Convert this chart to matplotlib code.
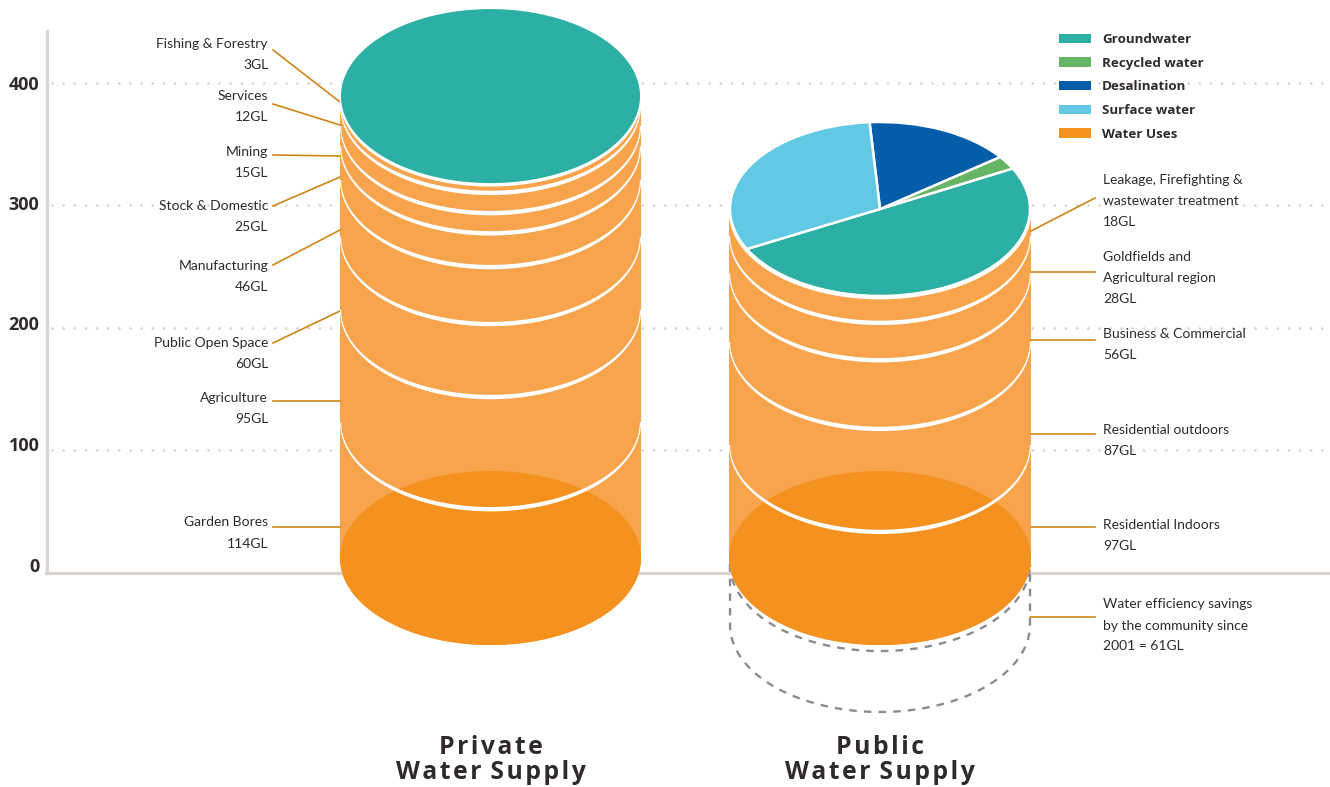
import numpy as np
import matplotlib
matplotlib.use('Agg')
import matplotlib.pyplot as plt
from matplotlib.patches import Patch
from matplotlib.transforms import ScaledTranslation

# wartosci
y_ticks = [0, 100, 200, 300, 400]

private_uses = ['Garden Bores', 'Agriculture', 'Public Open Space', 'Manufacturing',
                'Stock & Domestic', 'Mining', 'Services', 'Fishing & Forestry']
private_volumes = [114, 95, 60, 46, 25, 15, 12, 3]
# gorna krawedz kazdej warstwy na osi Y, podstawa to private_base
private_base = 12.2
private_tops = [123, 214.5, 274, 320.5, 348, 364.5, 381, 389]

public_uses = ['Residential Indoors', 'Residential outdoors', 'Business & Commercial',
               'Goldfields and\nAgricultural region',
               'Leakage, Firefighting &\nwastewater treatment']
public_volumes = [97, 87, 56, 28, 18]
public_base = 12.2
public_tops = [104.5, 188.5, 244.5, 275, 297]
savings_levels = [7.3, -42.4]
savings_label = 'Water efficiency savings\nby the community since\n2001 = 61GL'

source_names = ['Groundwater', 'Recycled water', 'Desalination', 'Surface water']
source_shares = [50.1, 2.5, 15.9, 31.5]
source_colors = ['#2CAFA4', '#66B565', '#045DA8', '#61C9E3']

USE_SOLID = '#F5911E'
USE_LIGHT = '#F8A44C'
LEADER = '#CF8618'
AXIS = '#D9D4CF'
TEXT = '#2F2B2C'
LABEL_FONT = ['Lato', 'DejaVu Sans']
BOLD_FONT = ['Open Sans', 'DejaVu Sans']

PX_PER_GL = 1.226
ZERO_PX = 573.0
HEIGHT = 787


def gl(px):
    # pozycja w pikselach (od gory) na wartosc osi Y
    return (ZERO_PX - px) / PX_PER_GL


fig = plt.figure(figsize=(13.3, 7.87), dpi=100)
ax = fig.add_axes([0, 0, 1, 1])
ax.set_xlim(0, 1330)
ax.set_ylim(gl(HEIGHT), gl(0))
ax.patch.set_visible(False)

# osie
for side in ['top', 'right']:
    ax.spines[side].set_visible(False)
ax.spines['left'].set_position(('data', 47))
ax.spines['left'].set_bounds(0, gl(31))
ax.spines['bottom'].set_position(('data', 0))
ax.spines['bottom'].set_bounds(46, 1330)
for side in ['left', 'bottom']:
    ax.spines[side].set_color(AXIS)
    ax.spines[side].set_linewidth(2.3)
    ax.spines[side].set_zorder(2)
ax.set_xticks([])
ax.set_yticks(y_ticks)
ax.set_yticklabels([str(t) for t in y_ticks], family=BOLD_FONT, fontweight='bold',
                   fontsize=13, color=TEXT)
ax.tick_params(axis='y', length=0, pad=5.5)
# etykiety osi sa lekko przesuniete do gory wzgledem linii
for label, shift in zip(ax.get_yticklabels(), [5.5, 4.5, 3.5, 1.5, 0]):
    label.set_transform(label.get_transform() + ScaledTranslation(0, shift / 72, fig.dpi_scale_trans))

for t in y_ticks[1:]:
    ax.plot([52, 1330], [t, t], color=AXIS, lw=2.0, linestyle=(0, (0.01, 4.0)),
            dash_capstyle='round', zorder=1)

t_lower = np.linspace(np.pi, 2 * np.pi, 200)
HALF_H = 87 / PX_PER_GL


def draw_stack(cx, half_w, base, tops):
    cos_t = np.cos(t_lower)
    sin_t = np.sin(t_lower)
    x = cx + half_w * cos_t
    # korpus walca
    body_x = np.r_[x, cx + half_w, cx - half_w]
    body_y = np.r_[base + HALF_H * sin_t, tops[-1], tops[-1]]
    ax.fill(body_x, body_y, color=USE_LIGHT, lw=0, zorder=3)
    # podstawa
    t_full = np.linspace(0, 2 * np.pi, 300)
    ax.fill(cx + half_w * np.cos(t_full), base + HALF_H * np.sin(t_full),
            color=USE_SOLID, lw=0, zorder=4)
    # biale granice warstw
    thick = 2.2 / PX_PER_GL
    for top in tops[:-1]:
        outer_x = x
        outer_y = top + (HALF_H + thick) * sin_t
        inner_x = cx + (half_w - 1.2) * cos_t
        inner_y = top + (HALF_H - thick) * sin_t
        ax.fill(np.r_[outer_x, inner_x[::-1]], np.r_[outer_y, inner_y[::-1]],
                color='white', lw=0, zorder=5)
    # biala obwodka pod gorna elipsa
    ax.fill(cx + (half_w + 0.3) * np.cos(t_full),
            tops[-1] - 2.5 / PX_PER_GL + (HALF_H + 1 / PX_PER_GL) * np.sin(t_full),
            color='white', lw=0, zorder=6)


draw_stack(490.5, 150.5, private_base, private_tops)
draw_stack(880, 151, public_base, public_tops)

# gorna elipsa prywatnego walca
t_top = np.linspace(0, 2 * np.pi, 300)
ax.fill(490.5 + 149.5 * np.cos(t_top), private_tops[-1] + HALF_H * np.sin(t_top),
        color=source_colors[0], lw=0, zorder=7)

# oszczednosci - linia przerywana pod publicznym walcem
dash = (0, (3.2, 3.0))
ax.plot(880 + 150 * np.cos(t_lower), savings_levels[0] + HALF_H * np.sin(t_lower),
        color='#8A8C8E', lw=1.7, linestyle=dash, zorder=2.5)
ax.plot(np.r_[730, 880 + 150 * np.cos(t_lower), 1030],
        np.r_[savings_levels[0], savings_levels[1] + HALF_H * np.sin(t_lower), savings_levels[0]],
        color='#8A8C8E', lw=1.7, linestyle=dash, zorder=2.5)

# kolowy wykres zrodel wody na publicznym walcu
pie_ax = fig.add_axes([730 / 1330, (HEIGHT - 296) / HEIGHT, 300 / 1330, 174 / HEIGHT], zorder=3)
pie_ax.pie(source_shares, colors=source_colors, startangle=207.4, radius=1,
           wedgeprops={'edgecolor': 'white', 'linewidth': 1.8})
pie_ax.set_aspect('auto')
pie_ax.set_xlim(-1, 1)
pie_ax.set_ylim(-1, 1)

# linie odniesienia i opisy
LABEL_SIZE = 10
LABEL_GAP = 1.9
private_leaders = [(527, 527), (401, 401), (311, 343), (230, 265), (177, 206), (156, 155), (125, 104), (102, 50)]
private_text_y = [533, 408.5, 353.5, 276.5, 216.5, 162.5, 106.5, 54.5]
for name, vol, (y0, y1), ty in zip(private_uses, private_volumes, private_leaders, private_text_y):
    ax.plot([340, 273], [gl(y0), gl(y1)], color=LEADER, lw=1.2, zorder=3)
    ax.text(268, gl(ty), f'{name}\n{vol}GL', ha='right', va='center', family=LABEL_FONT,
            fontsize=LABEL_SIZE, color=TEXT, linespacing=LABEL_GAP, zorder=8)

public_leaders = [(527, 527), (434, 434), (340, 340), (272, 272), (231, 198)]
public_text_y = [535.5, 440.5, 344.5, 278, 201]
for name, vol, (y0, y1), ty in zip(public_uses, public_volumes, public_leaders, public_text_y):
    ax.plot([1031, 1095], [gl(y0), gl(y1)], color=LEADER, lw=1.2, zorder=3)
    ax.text(1103, gl(ty), f'{name}\n{vol}GL', ha='left', va='center', family=LABEL_FONT,
            fontsize=LABEL_SIZE, color=TEXT, linespacing=LABEL_GAP, zorder=8)

ax.plot([1030, 1095], [gl(617), gl(617)], color=LEADER, lw=1.2, zorder=3)
ax.text(1103, gl(625.5), savings_label, ha='left', va='center', family=LABEL_FONT,
        fontsize=LABEL_SIZE, color=TEXT, linespacing=LABEL_GAP, zorder=8)

# legenda
handles = [Patch(color=c, lw=0) for c in source_colors] + [Patch(color=USE_SOLID, lw=0)]
names = source_names + ['Water Uses']
legend = ax.legend(handles, names, loc='upper left', bbox_to_anchor=(1059 / 1330, 1 - 33 / HEIGHT),
                   frameon=False, fontsize=9.6, borderpad=0, borderaxespad=0,
                   handlelength=2.4, handleheight=0.7, handletextpad=0.82, labelspacing=0.8)
for text in legend.get_texts():
    text.set_family(BOLD_FONT)
    text.set_fontweight('bold')
    text.set_color(TEXT)


# podpisy walcow, rozstrzelone waskimi spacjami
def spaced(s):
    return '\n'.join(' \u200a'.join('\u200a'.join(word) for word in line.split(' '))
                     for line in s.split('\n'))


ax.text(490.5, gl(760), spaced('Private\nWater Supply'), ha='center', va='center', family=BOLD_FONT,
        fontweight='bold', fontsize=17.8, color=TEXT, linespacing=1.05, zorder=8)
ax.text(880, gl(760), spaced('Public\nWater Supply'), ha='center', va='center', family=BOLD_FONT,
        fontweight='bold', fontsize=17.8, color=TEXT, linespacing=1.05, zorder=8)

fig.savefig('out.png', dpi=100)
